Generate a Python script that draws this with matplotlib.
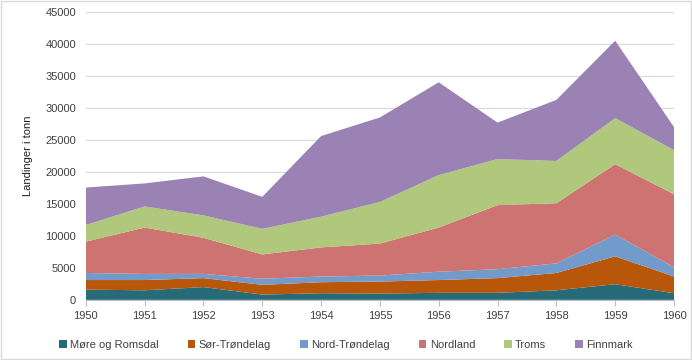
import numpy as np
import matplotlib.pyplot as plt
from matplotlib.patches import Rectangle

plt.rcParams['font.family'] = ['Liberation Sans', 'DejaVu Sans']

years = [1950, 1951, 1952, 1953, 1954, 1955, 1956, 1957, 1958, 1959, 1960]
names = ['Møre og Romsdal', 'Sør-Trøndelag', 'Nord-Trøndelag', 'Nordland', 'Troms', 'Finnmark']

more = [1600, 1500, 2000, 830, 1040, 990, 1100, 1100, 1500, 2450, 1040]
sor = [1500, 1600, 1400, 1520, 1720, 1870, 2000, 2300, 2700, 4350, 2610]
nord_t = [1100, 960, 660, 950, 890, 940, 1300, 1400, 1500, 3400, 1450]
nordland = [4900, 7240, 5640, 3800, 4550, 5000, 6900, 10000, 9400, 11000, 11400]
troms = [2600, 3300, 3500, 4000, 4800, 6500, 8200, 7200, 6600, 7200, 6900]
finnmark = [5850, 3600, 6100, 5000, 12600, 13200, 14500, 5700, 9550, 12100, 3600]

colors = ['#276b78', '#b8560a', '#729acb', '#cd7371', '#afc87c', '#9a83b4']

fig = plt.figure(figsize=(6.92, 3.6), dpi=100)
ax = fig.add_axes([0.124, 0.167, 0.850, 0.800])

ax.stackplot(years, more, sor, nord_t, nordland, troms, finnmark,
             colors=colors, labels=names, linewidth=0, zorder=2)

ax.set_xlim(1950, 1960)
ax.set_ylim(0, 45000)
ax.set_xticks(years)
ax.set_yticks(np.arange(0, 45001, 5000))
ax.yaxis.grid(True, color='#d9d9d9', linewidth=0.8, zorder=0)
ax.set_axisbelow(True)
for s in ['top', 'right', 'left']:
    ax.spines[s].set_visible(False)
ax.spines['bottom'].set_color('#bfbfbf')
ax.tick_params(axis='y', length=0, labelsize=8, colors='#404040', pad=7)
ax.tick_params(axis='x', length=4, color='#bfbfbf', labelsize=8, labelcolor='#404040',
               direction='out', pad=4)
ax.set_ylabel('Landinger i tonn', fontsize=8, color='#202020', labelpad=9)

handles, labels = ax.get_legend_handles_labels()
leg = fig.legend(handles, labels, loc='center', bbox_to_anchor=(0.5, 0.042), ncol=6,
                 frameon=False, fontsize=8, handlelength=0.7, handleheight=0.7,
                 columnspacing=2.6, handletextpad=0.3)
for t in leg.get_texts():
    t.set_color('#404040')

fig.patches.append(Rectangle((0.001, 0.002), 0.997, 0.995, transform=fig.transFigure,
                             fill=False, edgecolor='#d9d9d9', linewidth=1))

fig.savefig('out.png', dpi=100)
